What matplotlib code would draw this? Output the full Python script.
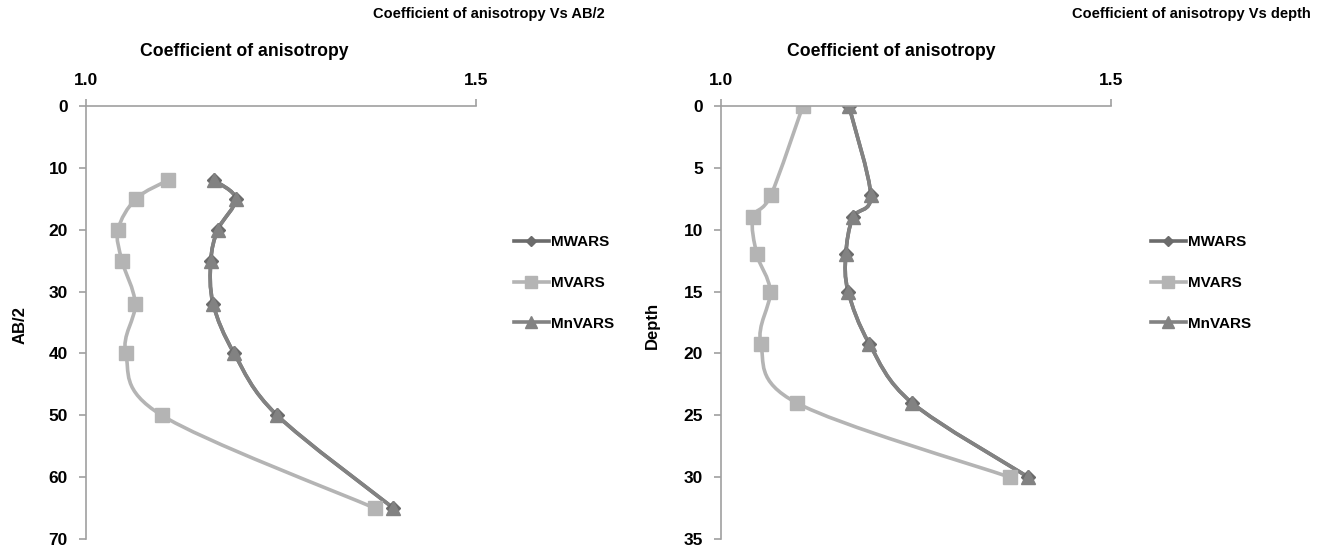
import numpy as np
import matplotlib
matplotlib.use("Agg")
import matplotlib.pyplot as plt
from matplotlib.path import Path
from matplotlib.patches import PathPatch
from matplotlib.lines import Line2D

plt.rcParams['font.family'] = ['Liberation Sans', 'DejaVu Sans']

# data
ab2 = [12, 15, 20, 25, 32, 40, 50, 65]
depth = [0, 7.2, 9, 12, 15, 19.2, 24, 30]
mwars = [1.164, 1.192, 1.169, 1.160, 1.163, 1.190, 1.245, 1.394]
mvars = [1.105, 1.064, 1.041, 1.046, 1.063, 1.051, 1.097, 1.370]
mnvars = [1.164, 1.192, 1.169, 1.160, 1.163, 1.190, 1.245, 1.394]

series_names = ['MWARS', 'MVARS', 'MnVARS']
colors = ['#6b6b6b', '#b4b4b4', '#828282']
markers = ['D', 's', '^']
msizes = [7, 10, 10]
axis_col = '#a0a0a0'


def smooth_path(x, y):
    # excel style smoothed line: catmull-rom as cubic bezier
    p = np.column_stack([x, y]).astype(float)
    n = len(p)
    verts = [p[0]]
    codes = [Path.MOVETO]
    for i in range(n - 1):
        p_prev = p[i - 1] if i > 0 else p[i]
        p_next = p[i + 2] if i + 2 < n else p[i + 1]
        c1 = p[i] + (p[i + 1] - p_prev) / 6.0
        c2 = p[i + 1] - (p_next - p[i]) / 6.0
        verts += [c1, c2, p[i + 1]]
        codes += [Path.CURVE4] * 3
    return Path(verts, codes)


def draw_panel(ax, yvals, ymax, ystep):
    for vals, name, c, m, ms in zip([mwars, mvars, mnvars], series_names, colors, markers, msizes):
        patch = PathPatch(smooth_path(vals, yvals), facecolor='none', edgecolor=c,
                          lw=2.6, transform=ax.transData, capstyle='round', joinstyle='round')
        ax.add_patch(patch)
        ax.plot(vals, yvals, linestyle='none', marker=m, markersize=ms, color=c,
                markeredgecolor=c, label=name)
    ax.set_xlim(1.0, 1.5)
    ax.set_ylim(ymax, 0)
    ax.set_xticks([1.0, 1.5])
    ax.set_xticklabels(['1.0', '1.5'])
    ax.set_yticks(np.arange(0, ymax + 0.1, ystep))
    ax.xaxis.tick_top()
    for s in ['right', 'bottom']:
        ax.spines[s].set_visible(False)
    for s in ['top', 'left']:
        ax.spines[s].set_color(axis_col)
        ax.spines[s].set_linewidth(1.2)
    ax.tick_params(axis='both', direction='out', length=5, color=axis_col, width=1.2,
                   labelsize=12.5, pad=8)
    for lab in ax.get_xticklabels() + ax.get_yticklabels():
        lab.set_fontweight('bold')


fig = plt.figure(figsize=(13.24, 5.52), dpi=100)
W, H = 1324.0, 552.0
ax1 = fig.add_axes([86 / W, 1 - 539 / H, 390 / W, 433 / H])
ax2 = fig.add_axes([721 / W, 1 - 539 / H, 390 / W, 433 / H])

draw_panel(ax1, ab2, 70, 10)
draw_panel(ax2, depth, 35, 5)

# titles and axis labels
fig.text(605 / W, 1 - 14 / H, 'Coefficient of anisotropy Vs AB/2', ha='right', va='center',
         fontsize=10.5, fontweight='bold')
fig.text(1311 / W, 1 - 14 / H, 'Coefficient of anisotropy Vs depth', ha='right', va='center',
         fontsize=10.5, fontweight='bold')
fig.text(244 / W, 1 - 52 / H, 'Coefficient of anisotropy', ha='center', va='center',
         fontsize=12.7, fontweight='bold')
fig.text(891 / W, 1 - 52 / H, 'Coefficient of anisotropy', ha='center', va='center',
         fontsize=12.7, fontweight='bold')
fig.text(20 / W, 1 - 325 / H, 'AB/2', ha='center', va='center', rotation=90,
         fontsize=12, fontweight='bold')
fig.text(652 / W, 1 - 325 / H, 'Depth', ha='center', va='center', rotation=90,
         fontsize=12, fontweight='bold')

# legends
handles = [Line2D([0], [0], color=c, lw=2.6, marker=m, markersize=ms * 0.8,
                  markeredgecolor=c) for c, m, ms in zip(colors, markers, msizes)]
for lx in [500, 1137]:
    leg = fig.legend(handles, series_names, loc='center left',
                     bbox_to_anchor=(lx / W, 1 - 283 / H), frameon=False,
                     handlelength=2.3, handletextpad=0.15, labelspacing=1.75,
                     prop={'size': 11, 'weight': 'bold'})

fig.savefig('out.png', dpi=100)
